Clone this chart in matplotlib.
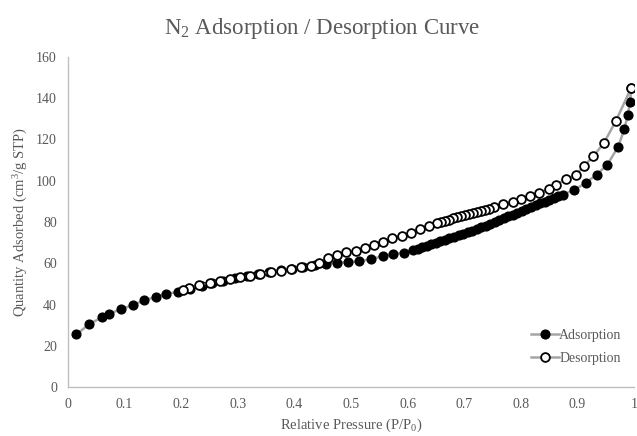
import matplotlib
matplotlib.use("Agg")
import matplotlib.pyplot as plt

plt.rcParams['font.family'] = ['Liberation Serif', 'DejaVu Serif']
plt.rcParams['mathtext.fontset'] = 'custom'
plt.rcParams['mathtext.rm'] = 'Liberation Serif'
plt.rcParams['mathtext.it'] = 'Liberation Serif:italic'

# Adsorption branch
ads_p = [0.015, 0.037, 0.060, 0.073, 0.093, 0.114, 0.134, 0.155, 0.173, 0.194,
         0.216, 0.236, 0.254, 0.274, 0.295, 0.316, 0.336, 0.356, 0.376, 0.396,
         0.416, 0.436, 0.456, 0.475, 0.494, 0.514, 0.535, 0.556, 0.575, 0.593,
         0.610, 0.618, 0.626, 0.634, 0.642, 0.650, 0.658, 0.666, 0.674, 0.682,
         0.690, 0.698, 0.706, 0.714, 0.722, 0.730, 0.738, 0.746, 0.754, 0.762,
         0.770, 0.778, 0.786, 0.794, 0.802, 0.810, 0.818, 0.826, 0.834, 0.842,
         0.850, 0.858, 0.866, 0.875, 0.894, 0.915, 0.934, 0.953, 0.972, 0.983,
         0.989, 0.993, 0.995]
ads_q = [25.5, 30.4, 33.8, 35.4, 37.8, 39.6, 42.0, 43.6, 45.2, 46.0,
         47.5, 49.0, 50.2, 51.5, 52.7, 53.8, 54.8, 55.6, 56.5, 57.4,
         58.2, 59.0, 59.8, 60.3, 60.5, 61.0, 61.9, 63.5, 64.5, 65.1,
         66.4, 67.1, 67.8, 68.5, 69.2, 69.9, 70.6, 71.4, 72.1, 72.8,
         73.6, 74.3, 75.0, 75.8, 76.6, 77.4, 78.3, 79.2, 80.1, 81.0,
         81.9, 82.8, 83.6, 84.5, 85.4, 86.3, 87.2, 88.1, 89.0, 89.9,
         90.8, 91.6, 92.4, 93.3, 95.5, 99.0, 103.0, 107.8, 116.5, 125.0,
         132.0, 138.0, 145.0]

# Desorption branch
des_p = [0.995, 0.968, 0.947, 0.928, 0.911, 0.897, 0.879, 0.863, 0.849, 0.833,
         0.816, 0.801, 0.786, 0.769, 0.752, 0.743, 0.736, 0.729, 0.722, 0.715,
         0.708, 0.701, 0.694, 0.687, 0.680, 0.673, 0.666, 0.659, 0.652, 0.638,
         0.622, 0.606, 0.590, 0.572, 0.557, 0.541, 0.525, 0.509, 0.492, 0.476,
         0.460, 0.443, 0.430, 0.412, 0.394, 0.376, 0.358, 0.340, 0.322, 0.304,
         0.286, 0.268, 0.250, 0.232, 0.214, 0.204]
des_q = [145.0, 129.0, 118.4, 111.8, 107.0, 102.8, 100.7, 98.1, 95.9, 94.2,
         92.6, 91.0, 89.7, 88.6, 87.3, 86.4, 85.9, 85.4, 84.9, 84.4,
         83.9, 83.3, 82.8, 82.3, 81.8, 81.2, 80.6, 80.0, 79.4, 78.1,
         76.5, 74.8, 73.2, 72.1, 70.5, 68.8, 67.5, 65.9, 65.3, 64.0,
         62.7, 60.3, 58.7, 58.0, 57.2, 56.4, 55.6, 54.8, 54.0, 53.2,
         52.3, 51.4, 50.4, 49.3, 48.0, 47.0]

xticks = [0, 0.1, 0.2, 0.3, 0.4, 0.5, 0.6, 0.7, 0.8, 0.9, 1]
xticklabels = ['0', '0.1', '0.2', '0.3', '0.4', '0.5', '0.6', '0.7', '0.8', '0.9', '1']
yticks = [0, 20, 40, 60, 80, 100, 120, 140, 160]

TXT = '#595959'
fig = plt.figure(figsize=(6.37, 4.36), dpi=100)
ax = fig.add_axes([68/637, 49/436, 566/637, 330/436])

ax.plot(ads_p, ads_q, color='#A5A5A5', lw=1.8, marker='o', ms=6.3,
        mfc='black', mec='black', mew=1.0, label='Adsorption', zorder=3)
ax.plot(des_p, des_q, color='#A5A5A5', lw=1.8, marker='o', ms=6.3,
        mfc='white', mec='black', mew=1.3, label='Desorption', zorder=4)

ax.set_xlim(0, 1)
ax.set_ylim(0, 160)
ax.set_xticks(xticks)
ax.set_xticklabels(xticklabels)
ax.set_yticks(yticks)
ax.tick_params(length=0, labelsize=10, colors=TXT, pad=8)
for s in ['top', 'right']:
    ax.spines[s].set_visible(False)
for s in ['left', 'bottom']:
    ax.spines[s].set_color('#BFBFBF')
    ax.spines[s].set_linewidth(1.0)

ax.set_xlabel('Relative Pressure (P/P$_\\mathregular{0}$)', fontsize=10.5, color=TXT, labelpad=4)
ax.set_ylabel('Quantity Adsorbed (cm$^\\mathregular{3}$/g STP)', fontsize=10.5, color=TXT, labelpad=4)

fig.text(0.505, 0.935, 'N$_\\mathregular{2}$ Adsorption / Desorption Curve', ha='center', va='center',
         fontsize=16.5, color=TXT)

leg = ax.legend(loc='lower right', bbox_to_anchor=(1.0, 0.03), frameon=False, fontsize=10,
                handlelength=2.0, handletextpad=0.0, labelspacing=0.7, labelcolor=TXT)

fig.savefig('out.png', dpi=100)
